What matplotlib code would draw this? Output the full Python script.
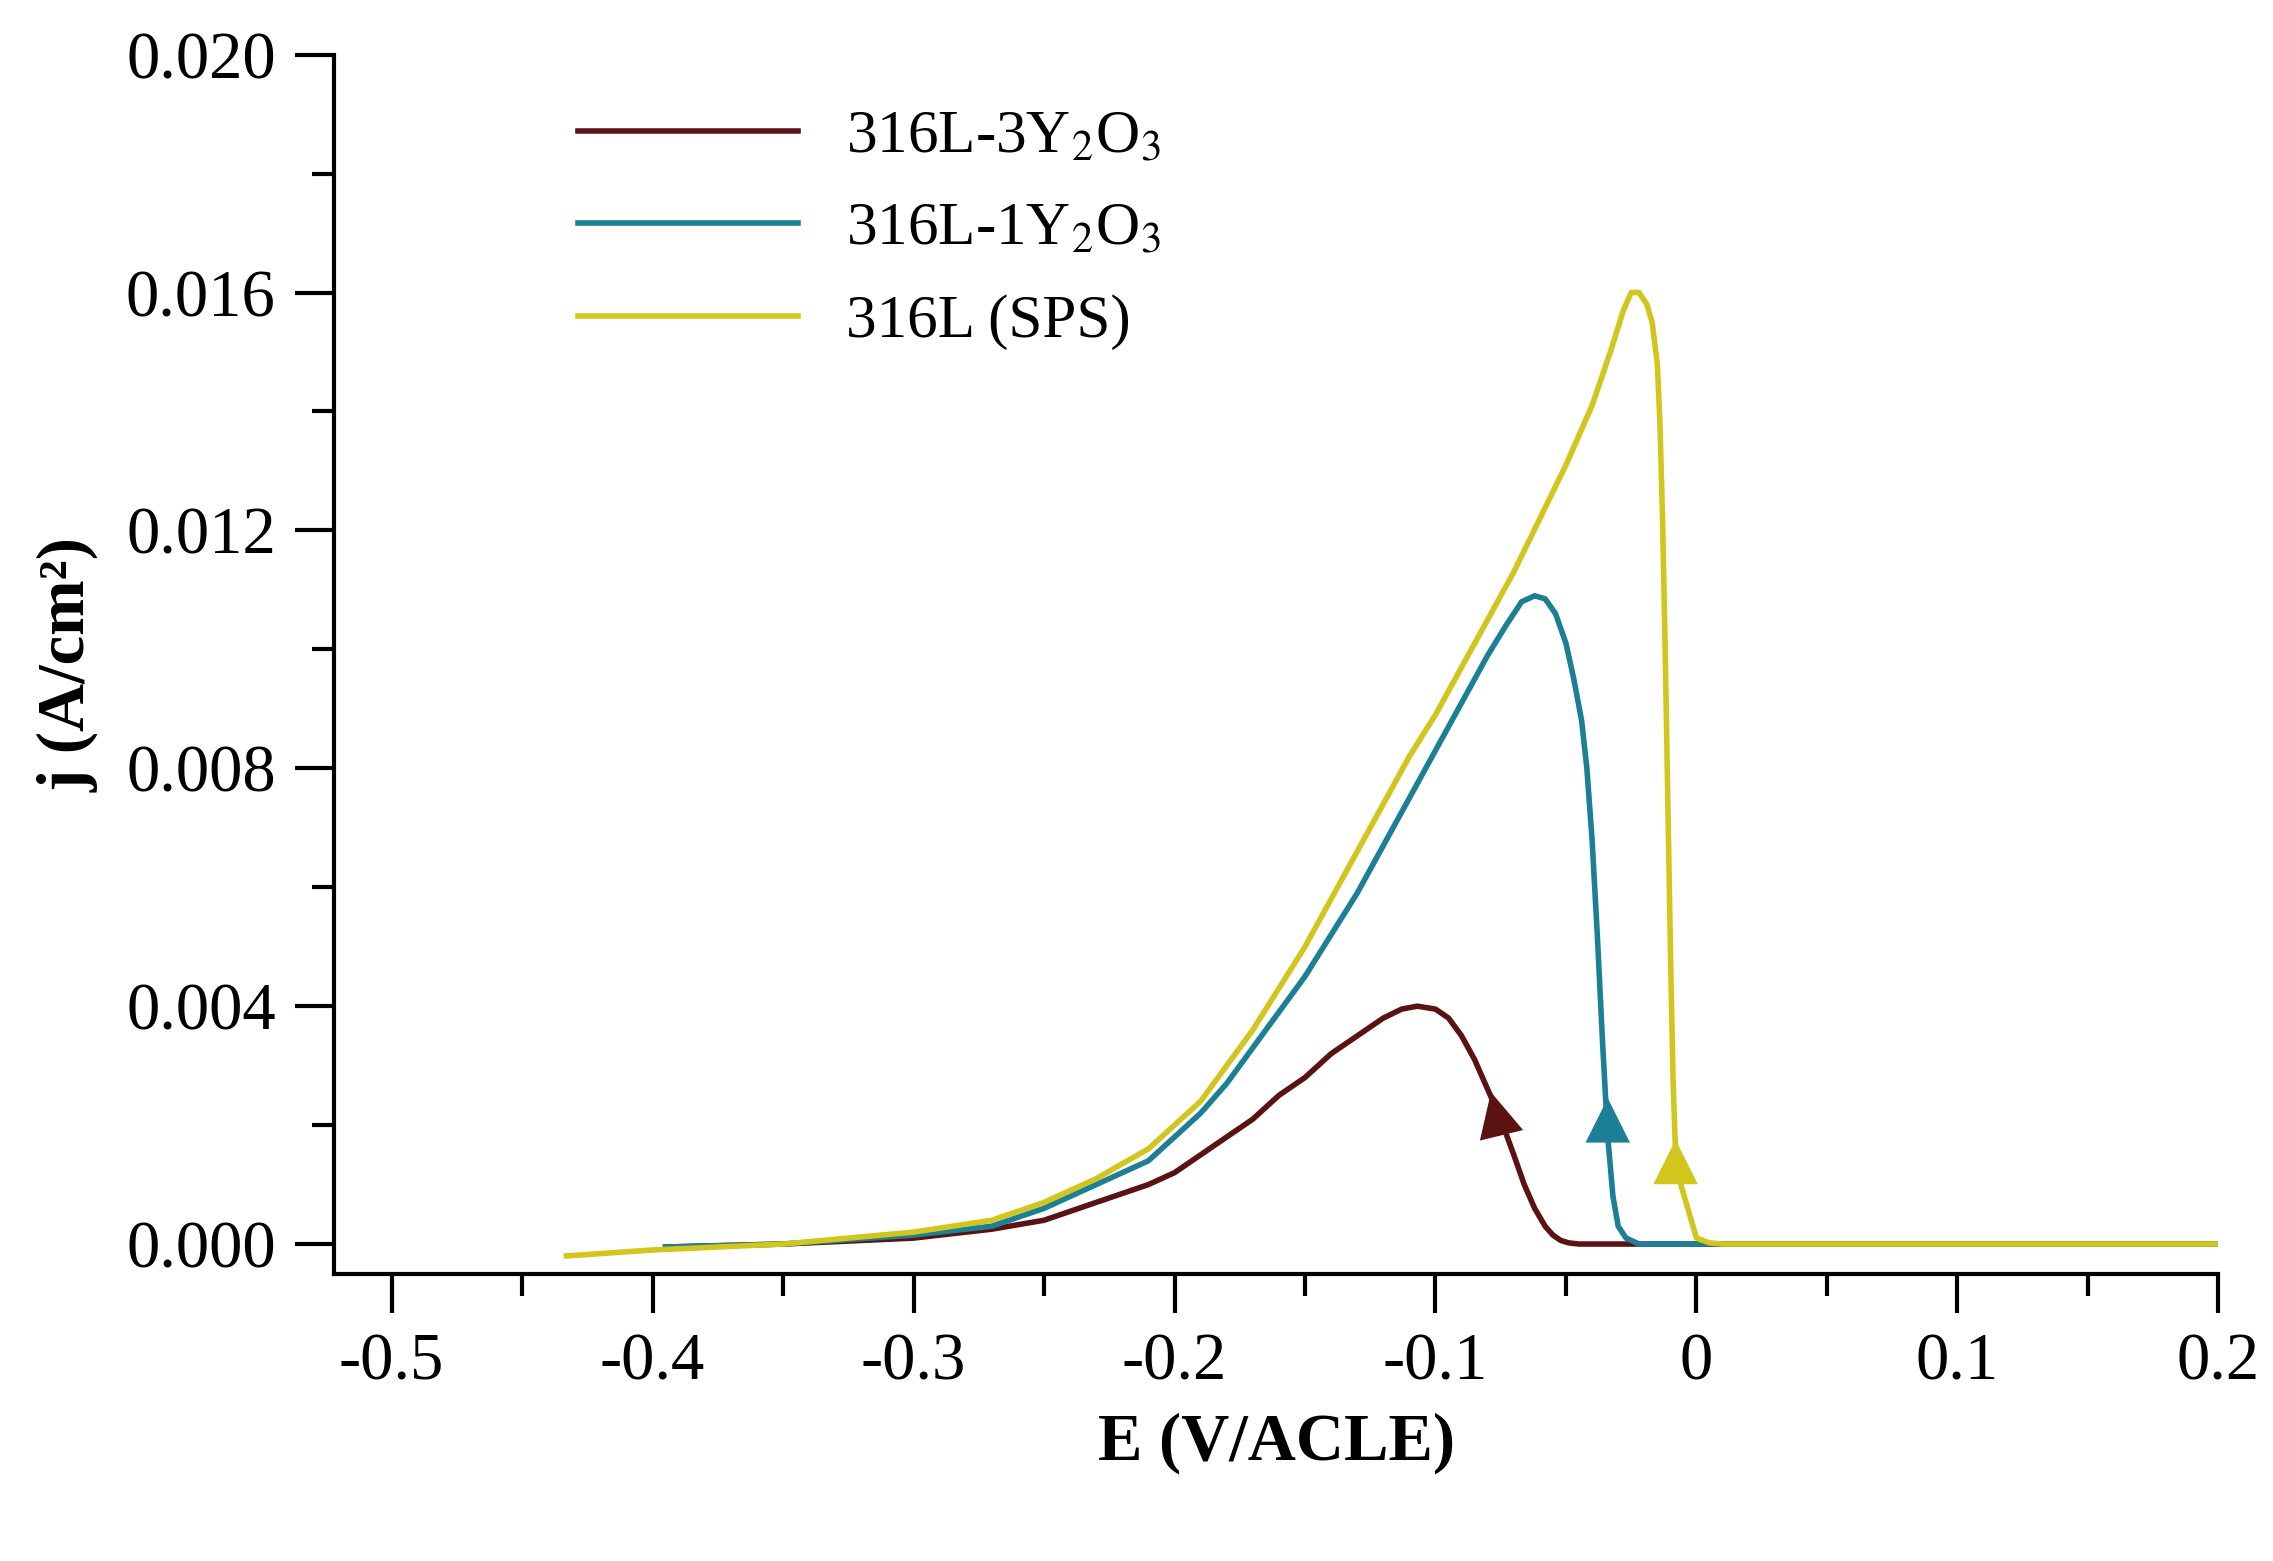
import matplotlib
matplotlib.use('Agg')
import matplotlib.pyplot as plt
from matplotlib.ticker import MultipleLocator, FormatStrFormatter

plt.rcParams['font.family'] = 'Liberation Serif'
plt.rcParams['mathtext.fontset'] = 'stix'

# 316L-3Y2O3
e_3y = [-0.395, -0.35, -0.3, -0.27, -0.25, -0.23, -0.21, -0.2, -0.19, -0.18, -0.17, -0.16, -0.15,
        -0.14, -0.13, -0.12, -0.113, -0.107, -0.1, -0.095, -0.09, -0.085, -0.08, -0.075, -0.07,
        -0.066, -0.062, -0.058, -0.055, -0.052, -0.049, -0.045, -0.04, 0.2]
j_3y = [-0.00005, 0.0, 0.0001, 0.00025, 0.0004, 0.0007, 0.001, 0.0012, 0.0015, 0.0018, 0.0021, 0.0025, 0.0028,
        0.0032, 0.0035, 0.0038, 0.00395, 0.0040, 0.00395, 0.0038, 0.0035, 0.0031, 0.0026, 0.0021, 0.0015,
        0.0010, 0.0006, 0.0003, 0.00015, 0.00006, 0.00002, 0.0, 0.0, 0.0]

# 316L-1Y2O3
e_1y = [-0.395, -0.35, -0.3, -0.27, -0.25, -0.23, -0.21, -0.2, -0.19, -0.18, -0.17, -0.16, -0.15,
        -0.14, -0.13, -0.12, -0.11, -0.1, -0.09, -0.08, -0.073, -0.067, -0.062, -0.058, -0.054,
        -0.05, -0.047, -0.044, -0.042, -0.04, -0.038, -0.036, -0.034, -0.032, -0.03, -0.027, -0.022, 0.2]
j_1y = [-0.00005, 0.0, 0.00015, 0.0003, 0.0006, 0.001, 0.0014, 0.0018, 0.0022, 0.0027, 0.0033, 0.0039, 0.0045,
        0.0052, 0.0059, 0.0067, 0.0075, 0.0083, 0.0091, 0.0099, 0.0104, 0.0108, 0.0109, 0.01085, 0.0106,
        0.0101, 0.0095, 0.0088, 0.0080, 0.0068, 0.0052, 0.0034, 0.0018, 0.0008, 0.0003, 0.0001, 0.0, 0.0]

# 316L (SPS)
e_sps = [-0.433, -0.4, -0.35, -0.3, -0.27, -0.25, -0.23, -0.21, -0.2, -0.19, -0.18, -0.17, -0.16, -0.15,
         -0.14, -0.13, -0.12, -0.11, -0.1, -0.09, -0.08, -0.07, -0.06, -0.05, -0.04, -0.033, -0.028,
         -0.025, -0.022, -0.019, -0.017, -0.015, -0.014, -0.013, -0.012, -0.011, -0.01, -0.009, -0.008,
         -0.006, -0.004, -0.002, 0.0, 0.005, 0.01, 0.2]
j_sps = [-0.0002, -0.0001, 0.0, 0.0002, 0.0004, 0.0007, 0.0011, 0.0016, 0.002, 0.0024, 0.003, 0.0036, 0.0043, 0.005,
         0.0058, 0.0066, 0.0074, 0.0082, 0.0089, 0.0097, 0.0105, 0.0113, 0.0122, 0.0131, 0.0141, 0.0150, 0.0157,
         0.0160, 0.0160, 0.0158, 0.0155, 0.0148, 0.0138, 0.0122, 0.0100, 0.0075, 0.0050, 0.0028, 0.0015,
         0.0010, 0.0007, 0.0004, 0.0001, 0.00002, 0.0, 0.0]

# arrow positions (base, tip)
arrows = [((-0.074, 0.0017), (-0.079, 0.0026)),
          ((-0.034, 0.0016), (-0.034, 0.0025)),
          ((-0.008, 0.0009), (-0.008, 0.0018))]

colors = ['#5c1212', '#1b7f95', '#d2c51c']
labels = ['316L-3Y$_2$O$_3$', '316L-1Y$_2$O$_3$', '316L (SPS)']

fig = plt.figure(figsize=(22.73, 15.61), dpi=100)
ax = fig.add_axes([0.147, 0.184, 0.829, 0.781])

for e, j, c, lab in zip([e_3y, e_1y, e_sps], [j_3y, j_1y, j_sps], colors, labels):
    ax.plot(e, j, color=c, lw=4, label=lab)

for (base, tip), c in zip(arrows, colors):
    ax.annotate('', xy=tip, xytext=base,
                arrowprops=dict(arrowstyle='-|>', mutation_scale=80, color=c, lw=0))

ax.set_xlim(-0.522, 0.2)
ax.set_ylim(-0.0005, 0.020)
ax.xaxis.set_major_locator(MultipleLocator(0.1))
ax.xaxis.set_minor_locator(MultipleLocator(0.05))
ax.yaxis.set_major_locator(MultipleLocator(0.004))
ax.yaxis.set_minor_locator(MultipleLocator(0.002))
ax.yaxis.set_major_formatter(FormatStrFormatter('%.3f'))
ax.xaxis.set_major_formatter(plt.FuncFormatter(lambda v, p: '0' if abs(v) < 1e-9 else f'{v:.1f}'))
for s in ['top', 'right']:
    ax.spines[s].set_visible(False)
for s in ['left', 'bottom']:
    ax.spines[s].set_linewidth(3)
ax.tick_params(which='major', length=28, width=3, labelsize=48, pad=14)
ax.tick_params(which='minor', length=16, width=3)
ax.set_xlabel('E (V/ACLE)', fontsize=48, fontweight='bold', labelpad=14)
ax.set_ylabel('j (A/cm²)', fontsize=48, fontweight='bold', labelpad=20)

ax.legend(loc='upper left', bbox_to_anchor=(0.1, 1.0), frameon=False, fontsize=44,
          handlelength=3.6, labelspacing=0.6)

fig.savefig('out.png')
